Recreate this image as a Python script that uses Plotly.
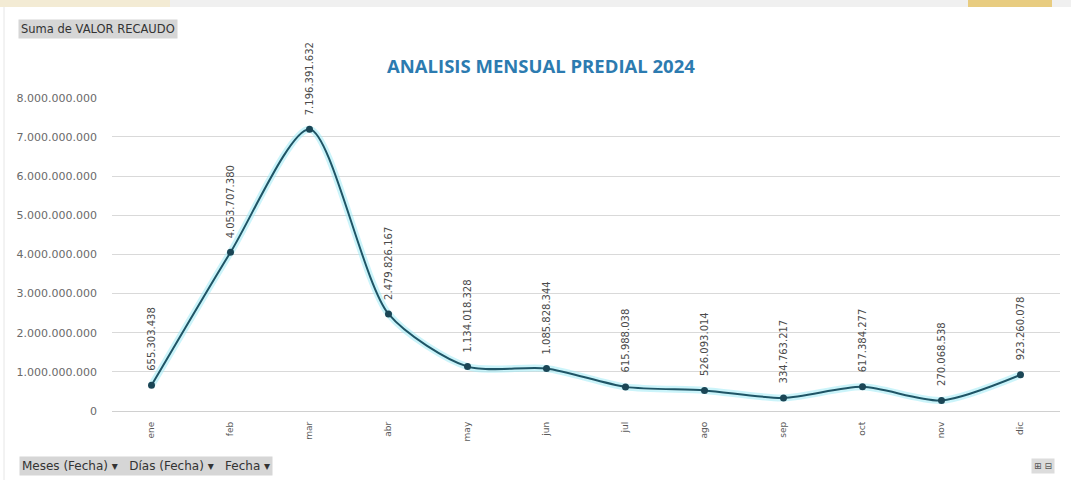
import plotly.graph_objects as go

# Monthly property-tax collection, 2024
meses = ["ene", "feb", "mar", "abr", "may", "jun", "jul", "ago", "sep", "oct", "nov", "dic"]
valor_recaudo = [655303438, 4053707380, 7196391632, 2479826167, 1134018328, 1085828344,
                 615988038, 526093014, 334763217, 617384277, 270068538, 923260078]
y_ticks = [0, 1e9, 2e9, 3e9, 4e9, 5e9, 6e9, 7e9, 8e9]

W, H = 1071, 480
L, R, T, B = 112, 11, 97, 69
pw, ph = W - L - R, H - T - B


def px(x):
    return (x - L) / pw


def py(y):
    return (H - B - y) / ph


def fmt(v):
    return f"{v:,}".replace(",", ".")


fig = go.Figure()

# soft glow under the line
fig.add_trace(go.Scatter(
    x=meses, y=valor_recaudo, mode="lines",
    line=dict(color="rgba(160,235,245,0.55)", width=7, shape="spline", smoothing=0.75),
    hoverinfo="skip", showlegend=False,
))
fig.add_trace(go.Scatter(
    x=meses, y=valor_recaudo, mode="lines+markers",
    line=dict(color="#1f5566", width=2, shape="spline", smoothing=0.75),
    marker=dict(color="#1b4656", size=7),
    showlegend=False,
))

annotations = []
for m, v in zip(meses, valor_recaudo):
    annotations.append(dict(
        x=m, y=v, xref="x", yref="y", text=fmt(v), showarrow=False,
        textangle=-90, xanchor="center", yanchor="bottom", yshift=12,
        font=dict(family="DejaVu Sans", size=10, color="#4a4a4a"),
    ))

# title
annotations.append(dict(
    x=px(541), y=py(65), xref="paper", yref="paper",
    text="<b>ANALISIS MENSUAL PREDIAL 2024</b>", showarrow=False,
    xanchor="center", yanchor="middle",
    font=dict(family="Open Sans", size=18.5, color="#2c7bb0"),
))

# field buttons
button_font = dict(family="DejaVu Sans", size=11.5, color="#333333")
annotations.append(dict(
    x=px(18), y=py(29), xref="paper", yref="paper", text="Suma de VALOR RECAUDO",
    showarrow=False, xanchor="left", yanchor="middle", bgcolor="#d6d6d6",
    borderpad=2, font=button_font,
))
annotations.append(dict(
    x=px(19), y=py(466), xref="paper", yref="paper",
    text="Meses (Fecha) ▾   Días (Fecha) ▾   Fecha ▾",
    showarrow=False, xanchor="left", yanchor="middle", bgcolor="#d6d6d6",
    borderpad=2, font=dict(family="DejaVu Sans", size=12, color="#333333"),
))
annotations.append(dict(
    x=px(1055), y=py(466), xref="paper", yref="paper", text="⊞ ⊟",
    showarrow=False, xanchor="right", yanchor="middle", bgcolor="#dcdcdc",
    borderpad=2, font=dict(family="DejaVu Sans", size=9, color="#555555"),
))

shapes = [
    # top strip and outer frame
    dict(type="rect", xref="paper", yref="paper", x0=px(0), x1=px(W), y0=py(7), y1=py(0),
         fillcolor="#f0f0f0", line=dict(width=0), layer="below"),
    dict(type="rect", xref="paper", yref="paper", x0=px(0), x1=px(170), y0=py(7), y1=py(0),
         fillcolor="rgba(250,225,160,0.35)", line=dict(width=0), layer="below"),
    dict(type="rect", xref="paper", yref="paper", x0=px(968), x1=px(1052), y0=py(7), y1=py(0),
         fillcolor="#e8cc80", line=dict(width=0), layer="below"),
    dict(type="line", xref="paper", yref="paper", x0=px(4), x1=px(4), y0=py(7), y1=py(H),
         line=dict(color="#e6e6e6", width=1)),
]

fig.update_layout(
    width=W, height=H,
    margin=dict(l=L, r=R, t=T, b=B),
    paper_bgcolor="white", plot_bgcolor="white",
    separators=",.",
    showlegend=False,
    annotations=annotations,
    shapes=shapes,
    xaxis=dict(
        type="category", range=[-0.5, 11.5], showgrid=False, showline=False,
        ticks="", tickangle=-90, ticklabelstandoff=8,
        tickfont=dict(family="DejaVu Sans", size=9, color="#595959"),
    ),
    yaxis=dict(
        range=[0, 8.02e9], tickvals=y_ticks, tickformat=",d",
        showgrid=True, gridcolor="#d9d9d9", gridwidth=1,
        zeroline=True, zerolinecolor="#d0d0d0", zerolinewidth=1,
        showline=False, ticks="", ticklabelstandoff=14,
        tickfont=dict(family="DejaVu Sans", size=11, color="#6a6a6a"),
    ),
)

fig.write_html("out.html")
